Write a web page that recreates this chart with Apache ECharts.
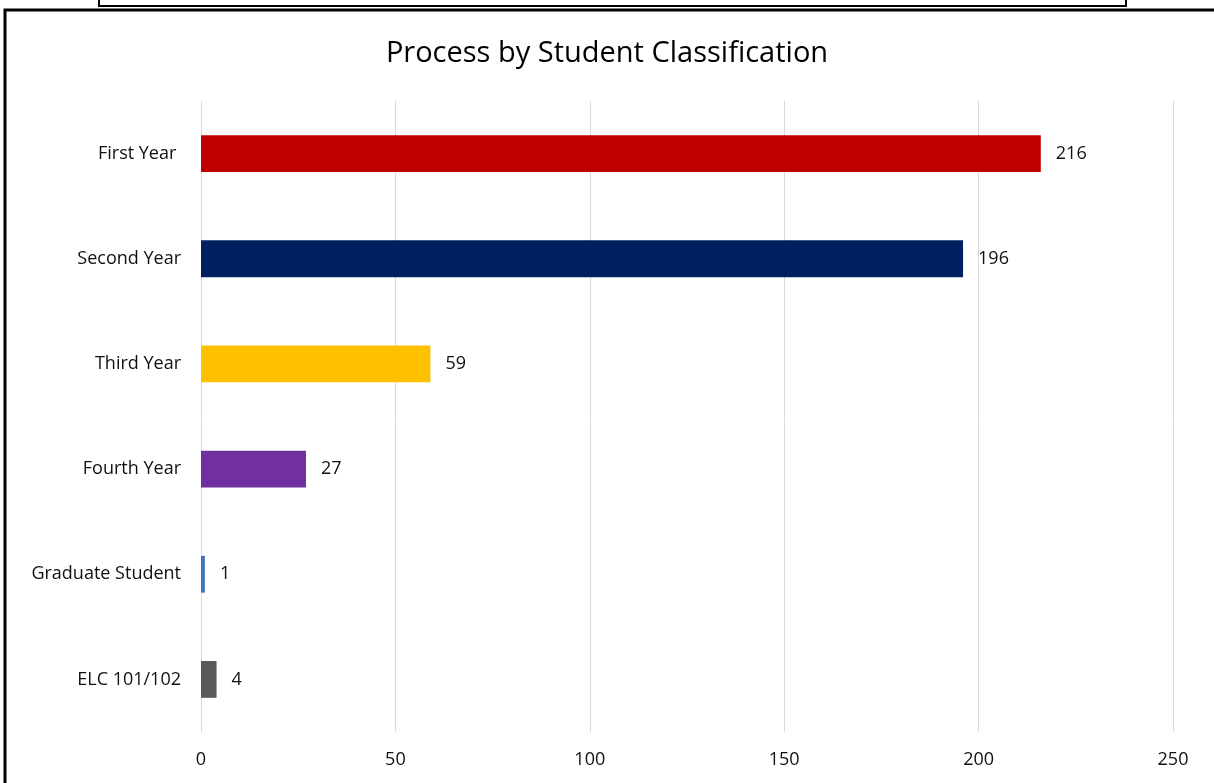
<!DOCTYPE html>
<html>
<head>
<meta charset="utf-8">
<script src="https://cdn.jsdelivr.net/npm/echarts@6/dist/echarts.min.js"></script>
<style>
html,body{margin:0;padding:0;background:#fff;}
#chart{width:1214px;height:783px;}
</style>
</head>
<body>
<div id="chart"></div>
<script>
const categories = ["First Year ", "Second Year", "Third Year", "Fourth Year", "Graduate Student", "ELC 101/102"];
const values = [216, 196, 59, 27, 1, 4];
const colors = ["#C00000", "#002060", "#FFC000", "#7030A0", "#4472C4", "#595959"];
const xTicks = [0, 50, 100, 150, 200, 250];
const titleText = "Process by Student Classification";

const FONT = "'Open Sans', Lato, sans-serif";
const chart = echarts.init(document.getElementById('chart'), null, {renderer: 'canvas'});
chart.setOption({
  animation: false,
  backgroundColor: '#fff',
  title: {
    text: titleText,
    left: 'center',
    top: 34,
    textStyle: {fontFamily: FONT, fontSize: 29, fontWeight: 'normal', color: '#000'}
  },
  graphic: [
    {type: 'rect', shape: {x: 99, y: -10, width: 1027, height: 16}, style: {fill: 'none', stroke: '#000', lineWidth: 2}},
    {type: 'rect', shape: {x: 5, y: 10, width: 1240, height: 800}, style: {fill: 'none', stroke: '#000', lineWidth: 3}}
  ],
  grid: {left: 201, right: 41, top: 101, bottom: 51, containLabel: false},
  xAxis: {
    type: 'value',
    min: xTicks[0],
    max: xTicks[xTicks.length - 1],
    interval: xTicks[1] - xTicks[0],
    axisLine: {show: false},
    axisTick: {show: false},
    splitLine: {show: true, lineStyle: {color: '#d9d9d9', width: 1}},
    axisLabel: {fontFamily: FONT, fontSize: 18, color: '#111', margin: 19}
  },
  yAxis: {
    type: 'category',
    data: categories,
    inverse: true,
    axisLine: {show: false},
    axisTick: {show: false},
    axisLabel: {fontFamily: FONT, fontSize: 18, color: '#111', margin: 20}
  },
  series: [{
    type: 'bar',
    data: values.map((v, i) => ({value: v, itemStyle: {color: colors[i]}})),
    barWidth: '35%',
    label: {show: true, position: 'right', distance: 15, fontFamily: FONT, fontSize: 18, color: '#111'}
  }]
});
</script>
</body>
</html>
